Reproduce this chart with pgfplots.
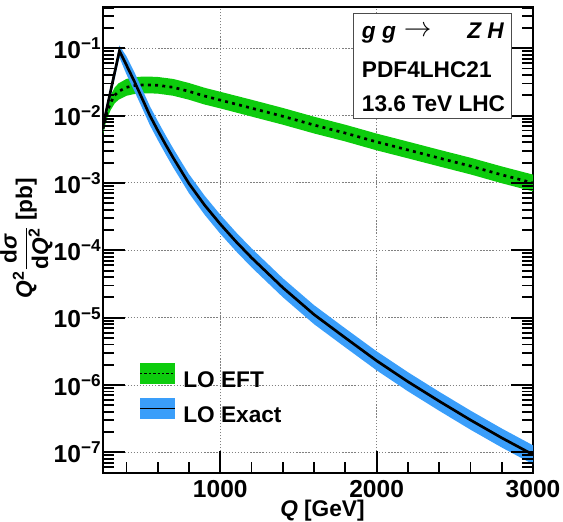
\documentclass[border=0pt]{standalone}
\usepackage{fontspec}
\setmainfont{Liberation Sans}
\usepackage{pgfplots}
\pgfplotsset{compat=1.18}

\definecolor{eftgreen}{RGB}{13,204,13}
\definecolor{exactblue}{RGB}{58,158,250}

% LO EFT: central value
\pgfplotstableread{
Q     c
250   6.31e-3
275   1.12e-2
300   1.58e-2
325   2.00e-2
350   2.29e-2
400   2.63e-2
450   2.79e-2
500   2.85e-2
550   2.85e-2
600   2.82e-2
700   2.63e-2
800   2.29e-2
900   1.95e-2
1000  1.70e-2
1200  1.29e-2
1400  9.77e-3
1600  7.24e-3
1800  5.50e-3
2000  4.07e-3
2200  3.09e-3
2400  2.34e-3
2600  1.78e-3
2800  1.32e-3
3000  1.00e-3
}\eftdata

% LO EFT scale band: upper edge forward, lower edge back
\pgfplotstableread{
Q     y
250   7.26e-3
275   1.38e-2
300   2.03e-2
325   2.62e-2
350   3.02e-2
400   3.50e-2
450   3.71e-2
500   3.79e-2
550   3.79e-2
600   3.75e-2
700   3.50e-2
800   3.05e-2
900   2.59e-2
1000  2.26e-2
1200  1.72e-2
1400  1.30e-2
1600  9.63e-3
1800  7.32e-3
2000  5.41e-3
2200  4.11e-3
2400  3.11e-3
2600  2.37e-3
2800  1.76e-3
3000  1.33e-3
3000  7.50e-4
2800  9.90e-4
2600  1.34e-3
2400  1.76e-3
2200  2.32e-3
2000  3.05e-3
1800  4.13e-3
1600  5.43e-3
1400  7.33e-3
1200  9.68e-3
1000  1.28e-2
900   1.46e-2
800   1.72e-2
700   1.97e-2
600   2.12e-2
550   2.14e-2
500   2.14e-2
450   2.09e-2
400   1.97e-2
350   1.72e-2
325   1.52e-2
300   1.22e-2
275   9.00e-3
250   5.36e-3
}\eftband

% LO exact (full top mass dependence): central value
\pgfplotstableread{
Q     c
250   7.08e-3
355   9.12e-2
400   5.62e-2
450   3.24e-2
500   1.80e-2
550   1.00e-2
600   6.03e-3
650   3.72e-3
700   2.34e-3
750   1.51e-3
800   9.77e-4
900   4.68e-4
1000  2.45e-4
1100  1.35e-4
1200  7.76e-5
1400  2.79e-5
1600  1.11e-5
1800  5.01e-6
2000  2.29e-6
2200  1.12e-6
2400  5.75e-7
2600  3.02e-7
2800  1.64e-7
3000  9.23e-8
}\exactdata

% LO exact scale band
\pgfplotstableread{
Q     y
250   8.10e-3
355   1.10e-1
400   7.60e-2
450   4.47e-2
500   2.48e-2
550   1.38e-2
600   8.32e-3
650   5.13e-3
700   3.23e-3
750   2.08e-3
800   1.35e-3
900   6.46e-4
1000  3.38e-4
1100  1.86e-4
1200  1.07e-4
1400  3.85e-5
1600  1.53e-5
1800  6.91e-6
2000  3.16e-6
2200  1.55e-6
2400  7.94e-7
2600  4.17e-7
2800  2.26e-7
3000  1.27e-7
3000  6.65e-8
2800  1.18e-7
2600  2.17e-7
2400  4.14e-7
2200  8.06e-7
2000  1.65e-6
1800  3.61e-6
1600  7.99e-6
1400  2.01e-5
1200  5.59e-5
1100  9.72e-5
1000  1.76e-4
900   3.37e-4
800   7.03e-4
750   1.09e-3
700   1.68e-3
650   2.68e-3
600   4.34e-3
550   7.20e-3
500   1.30e-2
450   2.33e-2
400   4.10e-2
355   7.30e-2
250   6.00e-3
}\exactband

\begin{document}
\begin{tikzpicture}
\begin{axis}[
  scale only axis, width=322.5pt, height=349.5pt,
  xmin=250, xmax=3000,
  ymode=log, ymin=4.93e-8, ymax=0.41,
  xtick={1000,2000,3000},
  xticklabels={1000,2000,3000},
  minor xtick={400,600,800,1200,1400,1600,1800,2200,2400,2600,2800},
  ytick={1e-7,1e-6,1e-5,1e-4,1e-3,1e-2,1e-1},
  yticklabels={10\textsuperscript{−7},10\textsuperscript{−6},10\textsuperscript{−5},
    10\textsuperscript{−4},10\textsuperscript{−3},10\textsuperscript{−2},10\textsuperscript{−1}},
  xtick pos=left, ytick pos=both,
  tick align=inside,
  major tick length=16.5pt, minor tick length=8.6pt,
  tick style={black, line width=1.4pt},
  axis line style={line width=1.2pt},
  xmajorgrids, ymajorgrids,
  major grid style={gray, line width=0.7pt, dash pattern=on 1pt off 1.3pt},
  xticklabel style={font=\fontsize{18.4}{20}\selectfont\bfseries,
    anchor=north, inner sep=0pt, yshift=-5.25pt},
  yticklabel style={font=\fontsize{18.4}{20}\selectfont\bfseries,
    anchor=east, inner sep=0pt, xshift=-1.1pt},
  legend style={at={(0.0844,0.2354)}, anchor=north west, draw=none, fill=none,
    inner sep=0pt, outer sep=0pt, row sep=7pt,
    font=\fontsize{17}{19}\selectfont\bfseries,
    nodes={inner xsep=5.8pt, inner ysep=0pt}},
  legend cell align=left,
]
\coordinate (bl) at (rel axis cs:0,0);
\coordinate (tr) at (rel axis cs:1,1);
\coordinate (tl) at (rel axis cs:0,1);
\coordinate (lm) at (rel axis cs:0,0.5);

% bands
\addplot[fill=eftgreen, draw=none, forget plot] table[x=Q, y=y] {\eftband};
\addplot[fill=exactblue, draw=none, forget plot] table[x=Q, y=y] {\exactband};

% central values
\addplot[black, line width=2pt, dash pattern=on 2.2pt off 3.2pt, forget plot]
  table[x=Q, y=c] {\eftdata};
\addplot[black, line width=2pt, forget plot] table[x=Q, y=c] {\exactdata};

% ROOT-style inner ticks, drawn again over the bands
\pgfplotsinvokeforeach{1e-7,1e-6,1e-5,1e-4,1e-3,1e-2,1e-1}{
  \draw[black, line width=1.4pt] (axis cs:250,#1) -- ++(16.5pt,0pt);
  \draw[black, line width=1.4pt] (axis cs:3000,#1) -- ++(-16.5pt,0pt);}
\pgfplotsinvokeforeach{6e-8,7e-8,8e-8,9e-8,
    2e-7,3e-7,4e-7,5e-7,6e-7,7e-7,8e-7,9e-7,
    2e-6,3e-6,4e-6,5e-6,6e-6,7e-6,8e-6,9e-6,
    2e-5,3e-5,4e-5,5e-5,6e-5,7e-5,8e-5,9e-5,
    2e-4,3e-4,4e-4,5e-4,6e-4,7e-4,8e-4,9e-4,
    2e-3,3e-3,4e-3,5e-3,6e-3,7e-3,8e-3,9e-3,
    2e-2,3e-2,4e-2,5e-2,6e-2,7e-2,8e-2,9e-2,
    2e-1,3e-1,4e-1}{
  \draw[black, line width=1.4pt] (axis cs:250,#1) -- ++(8.6pt,0pt);
  \draw[black, line width=1.4pt] (axis cs:3000,#1) -- ++(-8.6pt,0pt);}
\pgfplotsinvokeforeach{1000,2000}{
  \draw[black, line width=1.4pt] (axis cs:#1,4.93e-8) -- ++(0pt,16.5pt);}
\pgfplotsinvokeforeach{400,600,800,1200,1400,1600,1800,2200,2400,2600,2800}{
  \draw[black, line width=1.4pt] (axis cs:#1,4.93e-8) -- ++(0pt,8.6pt);}

\addlegendimage{legend image code/.code={
  \fill[eftgreen] (0pt,-2pt) rectangle (26pt,12.5pt);
  \draw[black, line width=1pt, dash pattern=on 1.8pt off 1.5pt] (0pt,5.25pt) -- (26pt,5.25pt);}}
\addlegendentry{LO EFT}
\addlegendimage{legend image code/.code={
  \fill[exactblue] (0pt,-2pt) rectangle (26pt,12.5pt);
  \draw[black, line width=1.2pt] (0pt,5.25pt) -- (26pt,5.25pt);}}
\addlegendentry{LO Exact}
\end{axis}

% info box
\draw[black!70, line width=1pt, fill=white]
  ([xshift=187.7pt, yshift=-4.7pt]tl) rectangle ([xshift=306.5pt, yshift=-83.5pt]tl);
\begin{scope}[every node/.style={inner sep=0pt, anchor=base west,
    font=\fontsize{17}{19}\selectfont\bfseries}]
  \node at ([xshift=194pt, yshift=-24pt]tl) {\itshape g g};
  \node at ([xshift=225.5pt, yshift=-22pt]tl) {\fontsize{20.7}{22}\selectfont$\rightarrow$};
  \node at ([xshift=273pt, yshift=-24pt]tl) {\itshape Z H};
  \node at ([xshift=194pt, yshift=-53.25pt]tl) {PDF4LHC21};
  \node at ([xshift=194pt, yshift=-78.4pt]tl) {13.6 TeV LHC};
\end{scope}

% axis titles
\node[anchor=base west, inner sep=0pt, font=\fontsize{17}{19}\selectfont\bfseries]
  at ([xshift=132.75pt, yshift=-32.3pt]bl) {\itshape Q\upshape{} [GeV]};
\node[rotate=90, inner sep=0pt, font=\fontsize{17}{19}\selectfont\bfseries]
  at ([xshift=-57.5pt, yshift=1.5pt]lm)
  {\textit{Q}\textsuperscript{2}$\displaystyle\frac{\mbox{d\textit{σ}}}{\mbox{d\textit{Q}\textsuperscript{2}}}$ [pb]};

% page size: same margins round the axis as the reference
\path ([xshift=-77.25pt, yshift=-36pt]bl) rectangle ([xshift=22.5pt, yshift=5.25pt]tr);
\end{tikzpicture}
\end{document}
